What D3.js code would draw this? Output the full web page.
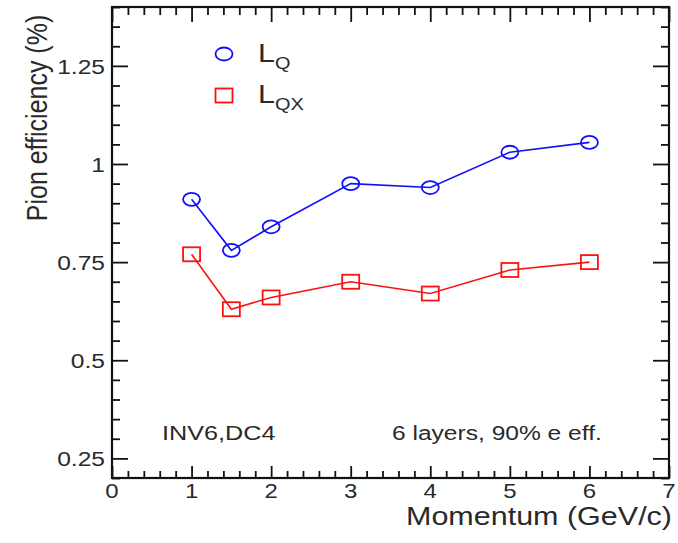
<!DOCTYPE html>
<html>
<head>
<meta charset="utf-8">
<script src="https://cdn.jsdelivr.net/npm/d3@7"></script>
<style>
  html, body { margin: 0; padding: 0; background: #fff; }
  svg { display: block; font-family: "Liberation Sans", Arial, sans-serif; }
</style>
</head>
<body>
<svg id="chart" width="678" height="543"></svg>
<script>
// Momentum points (GeV/c)
const momentum = [1, 1.5, 2, 3, 4, 5, 6];
// Pion efficiency (%) at 90% electron efficiency, 6 layers
const effLQ  = [0.91, 0.78, 0.84, 0.95, 0.94, 1.03, 1.055];
const effLQX = [0.77, 0.63, 0.66, 0.70, 0.67, 0.73, 0.75];
// Axis ticks
const xMajor = [0, 1, 2, 3, 4, 5, 6, 7];
const yMajor = [0.25, 0.5, 0.75, 1, 1.25];
const yMajorLabels = ["0.25", "0.5", "0.75", "1", "1.25"];

const svg = d3.select("#chart");
const frame = { left: 112, right: 669, top: 7, bottom: 478 };
const SX = 1.17; // horizontal stretch of the lettering

const x = d3.scaleLinear().domain([0, 7]).range([frame.left, frame.right]);
const y = d3.scaleLinear().domain([0.2, 1.4]).range([frame.bottom, frame.top]);

const xMinor = d3.range(0, 7.0001, 0.2).map(v => +v.toFixed(2)).filter(v => !xMajor.includes(v));
const yMinor = d3.range(0.2, 1.4001, 0.05).map(v => +v.toFixed(2)).filter(v => !yMajor.includes(v));

function styleAxis(g) {
  g.select(".domain").remove();
  g.selectAll(".tick line").attr("stroke", "#111").attr("stroke-width", 1.8);
  g.selectAll("text").remove();
}

// Ticks on all four sides, pointing inward
svg.append("g").attr("transform", `translate(0,${frame.bottom})`)
  .call(d3.axisBottom(x).tickValues(xMajor).tickSize(-12)).call(styleAxis);
svg.append("g").attr("transform", `translate(0,${frame.bottom})`)
  .call(d3.axisBottom(x).tickValues(xMinor).tickSize(-7)).call(styleAxis);
svg.append("g").attr("transform", `translate(0,${frame.top})`)
  .call(d3.axisTop(x).tickValues(xMajor).tickSize(-15)).call(styleAxis);
svg.append("g").attr("transform", `translate(0,${frame.top})`)
  .call(d3.axisTop(x).tickValues(xMinor).tickSize(-8)).call(styleAxis);
svg.append("g").attr("transform", `translate(${frame.left},0)`)
  .call(d3.axisLeft(y).tickValues(yMajor).tickSize(-16)).call(styleAxis);
svg.append("g").attr("transform", `translate(${frame.left},0)`)
  .call(d3.axisLeft(y).tickValues(yMinor).tickSize(-8)).call(styleAxis);
svg.append("g").attr("transform", `translate(${frame.right},0)`)
  .call(d3.axisRight(y).tickValues(yMajor).tickSize(-16)).call(styleAxis);
svg.append("g").attr("transform", `translate(${frame.right},0)`)
  .call(d3.axisRight(y).tickValues(yMinor).tickSize(-8)).call(styleAxis);

// Frame
svg.append("rect")
  .attr("x", frame.left).attr("y", frame.top)
  .attr("width", frame.right - frame.left).attr("height", frame.bottom - frame.top)
  .attr("fill", "none").attr("stroke", "#111").attr("stroke-width", 2.2);

// Stretched text helper
function stext(g, px, py, str, size, anchor, sx = SX) {
  return g.append("text")
    .attr("transform", `translate(${px},${py}) scale(${sx},1)`)
    .attr("text-anchor", anchor)
    .attr("font-size", size)
    .attr("fill", "#2a2a2a")
    .text(str);
}

const labels = svg.append("g");
xMajor.forEach(v => stext(labels, x(v), 498, String(v), 20, "middle", 1.2));
yMajor.forEach((v, i) => stext(labels, 105, y(v) + 8, yMajorLabels[i], 20.5, "end", 1.2));

// Axis titles
stext(labels, 672, 525, "Momentum (GeV/c)", 25, "end", 1.22);
labels.append("text")
  .attr("transform", `translate(47,118) rotate(-90) scale(1,${SX})`)
  .attr("text-anchor", "middle")
  .attr("font-size", 25)
  .attr("fill", "#2a2a2a")
  .text("Pion efficiency (%)");

// Annotations
stext(labels, 162, 440, "INV6,DC4", 21, "start", 1.2);
stext(labels, 392, 440, "6 layers, 90% e eff.", 21, "start");

// Series
const series = [
  { name: "Q",  values: effLQ,  color: "#1010ff", marker: "circle" },
  { name: "QX", values: effLQX, color: "#ff1010", marker: "square" }
];

const line = d3.line().x(d => x(d[0])).y(d => y(d[1]));

function drawMarker(g, cx, cy, type, color) {
  if (type === "circle") {
    g.append("ellipse").attr("cx", cx).attr("cy", cy).attr("rx", 8.5).attr("ry", 6.5)
      .attr("fill", "none").attr("stroke", color).attr("stroke-width", 1.8);
  } else {
    g.append("rect").attr("x", cx - 8.5).attr("y", cy - 7).attr("width", 17).attr("height", 14)
      .attr("fill", "none").attr("stroke", color).attr("stroke-width", 1.8);
  }
}

series.forEach(s => {
  const pts = momentum.map((m, i) => [m, s.values[i]]);
  const g = svg.append("g");
  g.append("path").attr("d", line(pts)).attr("fill", "none")
    .attr("stroke", s.color).attr("stroke-width", 1.6);
  pts.forEach(p => drawMarker(g, x(p[0]), y(p[1]), s.marker, s.color));
});

// Legend: marker plus "L" with a lowered subscript in one text element
const legend = svg.append("g");
[
  { type: "circle", color: "#1010ff", sub: "Q",  my: 54,  base: 62 },
  { type: "square", color: "#ff1010", sub: "QX", my: 95.5, base: 103 }
].forEach(item => {
  drawMarker(legend, 224, item.my, item.type, item.color);
  const t = stext(legend, 258, item.base, "L", 26, "start");
  t.append("tspan").attr("dy", 7).attr("font-size", 17).text(item.sub);
});
</script>
</body>
</html>
